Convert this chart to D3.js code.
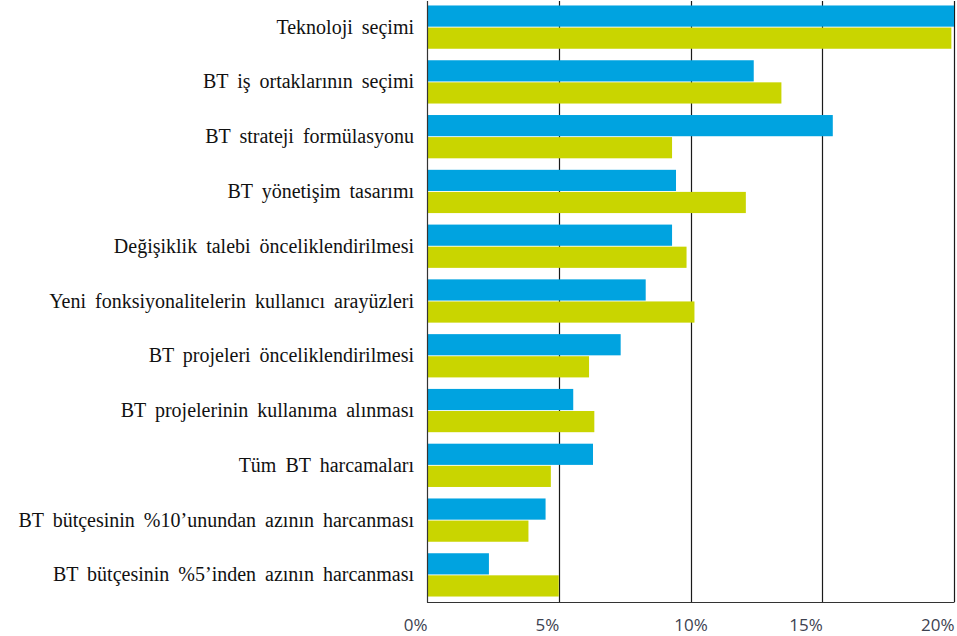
<!DOCTYPE html>
<html><head><meta charset="utf-8">
<script src="https://cdn.jsdelivr.net/npm/d3@7"></script>
<style>body{margin:0;background:#fff}svg{display:block}</style>
</head><body><svg id="c" width="957" height="636"></svg>
<script>
const categories = [
  "Teknoloji seçimi",
  "BT iş ortaklarının seçimi",
  "BT strateji formülasyonu",
  "BT yönetişim tasarımı",
  "Değişiklik talebi önceliklendirilmesi",
  "Yeni fonksiyonalitelerin kullanıcı arayüzleri",
  "BT projeleri önceliklendirilmesi",
  "BT projelerinin kullanıma alınması",
  "Tüm BT harcamaları",
  "BT bütçesinin %10’unundan azının harcanması",
  "BT bütçesinin %5’inden azının harcanması"
];
const seriesBlue   = [20.0, 12.4, 15.4, 9.45, 9.3, 8.3, 7.35, 5.55, 6.3, 4.5, 2.35];
const seriesYellow = [19.9, 13.45, 9.3, 12.1, 9.85, 10.15, 6.15, 6.35, 4.7, 3.85, 5.0];
const tickValues = [0, 5, 10, 15, 20];
const tickLabels = ["0%", "5%", "10%", "15%", "20%"];

const svg = d3.select("#c");
const L = 427, R = 954, T = 0, B = 602;
const x = d3.scaleLinear().domain([0, 20]).range([L, R]);
const y = d3.scaleBand().domain(categories).range([T, B]).paddingInner(0.21).paddingOuter(0.1);
const sub = d3.scaleBand().domain(["b", "y"]).range([0, y.bandwidth()]).paddingInner(0.04);
const colors = {b: "#00A3E0", y: "#C9D500"};

// gridlines
svg.append("g").selectAll("line").data(tickValues.slice(1)).join("line")
  .attr("x1", d => Math.round(x(d)) + 0.5).attr("x2", d => Math.round(x(d)) + 0.5)
  .attr("y1", T + 1).attr("y2", B)
  .attr("stroke", "#1a1a1a").attr("stroke-width", 1.2);

// bars
const g = svg.append("g");
categories.forEach((c, i) => {
  [["b", seriesBlue[i]], ["y", seriesYellow[i]]].forEach(([k, v]) => {
    g.append("rect")
      .attr("x", x(0)).attr("y", y(c) + sub(k))
      .attr("width", x(v) - x(0)).attr("height", sub.bandwidth())
      .attr("fill", colors[k]);
  });
});

// axes lines
svg.append("line").attr("x1", L + 0.5).attr("x2", L + 0.5).attr("y1", T + 1).attr("y2", B + 0.5)
  .attr("stroke", "#333").attr("stroke-width", 1.2);
svg.append("line").attr("x1", L).attr("x2", R + 0.5).attr("y1", B + 0.5).attr("y2", B + 0.5)
  .attr("stroke", "#333").attr("stroke-width", 1.2);

// category labels
svg.append("g").selectAll("text").data(categories).join("text")
  .attr("x", 414).attr("y", d => y(d) + y.bandwidth() / 2).attr("dy", "0.33em")
  .attr("text-anchor", "end")
  .attr("font-family", "'Liberation Serif', 'Times New Roman', serif")
  .attr("font-size", 20).attr("fill", "#111")
  .style("word-spacing", "4px")
  .text(d => d);

// x axis tick labels
const ax = d3.axisBottom(x).tickValues(tickValues).tickFormat((d, i) => tickLabels[i]).tickSize(0).tickPadding(17);
const axg = svg.append("g").attr("transform", `translate(0,${B})`).call(ax);
axg.select(".domain").remove();
axg.selectAll("text")
  .attr("font-family", "'Open Sans', 'Noto Sans', sans-serif")
  .attr("font-size", 17).attr("fill", "#3d4250")
  .attr("text-anchor", d => d === 10 ? "middle" : "end");
</script>
</body></html>
